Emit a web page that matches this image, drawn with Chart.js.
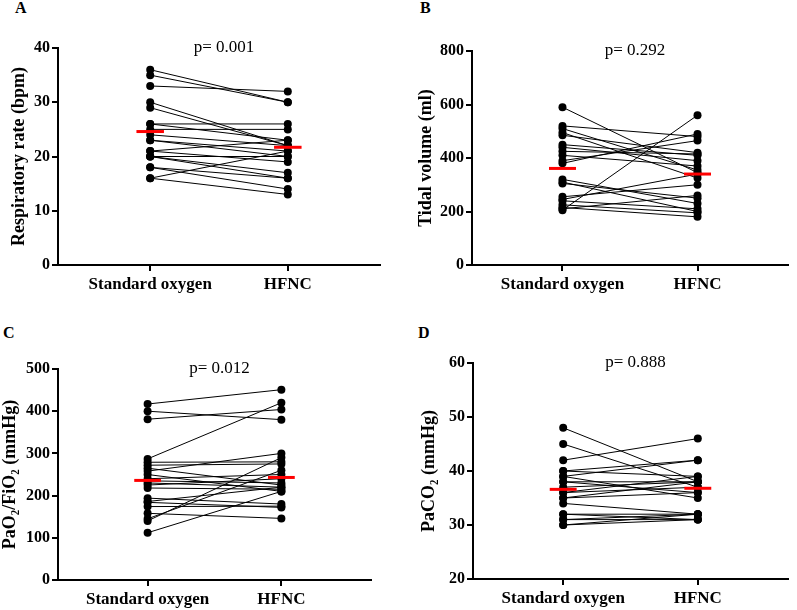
<!DOCTYPE html>
<html lang="en">
<head>
<meta charset="UTF-8">
<title>Standard oxygen vs HFNC</title>
<style>
  body {
    margin: 0;
    background: #fff;
    font-family: 'Liberation Serif', 'Times New Roman', serif;
  }
  .page {
    position: relative;
    width: 797px;
    height: 610px;
    overflow: hidden;
  }
  .panel {
    position: absolute;
  }
  .letter {
    position: absolute;
    font-weight: bold;
    font-size: 16px;
    line-height: 16px;
  }
</style>
<script src="https://cdn.jsdelivr.net/npm/chart.js"></script>
</head>
<body>
<div class="page">
  <div class="letter" style="left:15px;top:0px">A</div>
  <div class="letter" style="left:420px;top:0px">B</div>
  <div class="letter" style="left:3px;top:325px">C</div>
  <div class="letter" style="left:418px;top:325px">D</div>

  <div class="panel" style="left:0;top:0;width:400px;height:300px"><canvas id="chartA"></canvas></div>
  <div class="panel" style="left:400px;top:0;width:397px;height:300px"><canvas id="chartB"></canvas></div>
  <div class="panel" style="left:0;top:300px;width:400px;height:310px"><canvas id="chartC"></canvas></div>
  <div class="panel" style="left:400px;top:300px;width:397px;height:310px"><canvas id="chartD"></canvas></div>
</div>

<script>
// categories on the x axis
const categories = ['Standard oxygen', 'HFNC'];

// A - respiratory rate (bpm), one entry per patient
const rrStd  = [36, 35, 33, 30, 29, 26, 26, 25, 24, 23, 23, 21, 21, 20, 20, 20, 18, 18, 16, 16];
const rrHfnc = [30, 30, 32, 22, 22, 26, 23, 25, 22, 20, 21, 23, 19, 20, 17, 16, 14, 16, 21, 13];
const rrMean = [24.6, 21.7];

// B - tidal volume (ml)
const vtStd  = [590, 520, 510, 495, 485, 450, 440, 425, 410, 390, 380, 320, 310, 305, 255, 245, 240, 225, 215, 210, 205];
const vtHfnc = [345, 480, 355, 325, 420, 410, 390, 415, 370, 465, 490, 230, 200, 250, 300, 340, 210, 195, 180, 260, 560];
const vtMean = [361, 340];

// C - PaO2/FiO2 (mmHg)
const pfStd  = [417, 400, 381, 287, 279, 272, 265, 258, 250, 240, 235, 225, 218, 194, 186, 184, 174, 158, 145, 140, 112, 230];
const pfHfnc = [451, 380, 404, 420, 280, 275, 225, 300, 210, 250, 230, 240, 215, 180, 220, 172, 175, 146, 260, 290, 210, 220];
const pfMean = [236, 243];

// D - PaCO2 (mmHg)
const co2Std  = [48, 45, 42, 40, 40, 39, 39, 38, 38, 37, 36, 36, 35, 34, 32, 32, 31, 31, 30, 30, 35];
const co2Hfnc = [38, 37, 46, 42, 39, 42, 35, 38, 36, 38, 39, 37, 36, 32, 31, 32, 32, 31, 32, 31, 38];
const co2Mean = [36.6, 36.8];

const pValues = ['p= 0.001', 'p= 0.292', 'p= 0.012', 'p= 0.888'];
const yTitles = ['Respiratory rate (bpm)', 'Tidal volume (ml)', 'PaO\u2082/FiO\u2082 (mmHg)', 'PaCO\u2082 (mmHg)'];
const yRanges = [[0, 40, 10], [0, 800, 200], [0, 500, 100], [20, 60, 10]];

const FONT = "'Liberation Serif', 'Times New Roman', serif";

// p value text sitting at the top of the plot area
const pLabel = {
  id: 'pLabel',
  afterDraw(chart, args, opts) {
    const { ctx, chartArea } = chart;
    ctx.save();
    ctx.font = '17px ' + FONT;
    ctx.fillStyle = '#000';
    ctx.textAlign = 'center';
    ctx.textBaseline = 'middle';
    ctx.fillText(opts.text, (chartArea.left + chartArea.right) / 2 + 5, chartArea.top);
    ctx.restore();
  }
};

function makePanel(id, std, hfnc, mean, n, box) {
  const datasets = [];
  // means first so they end up on top
  mean.forEach((m, i) => {
    datasets.push({
      data: [{ x: i + 0.9, y: m }, { x: i + 1.1, y: m }],
      borderColor: '#ff0000',
      borderWidth: 3,
      pointRadius: 0,
      showLine: true
    });
  });
  std.forEach((v, i) => {
    datasets.push({
      data: [{ x: 1, y: v }, { x: 2, y: hfnc[i] }],
      borderColor: '#000',
      backgroundColor: '#000',
      borderWidth: 1,
      pointRadius: 4,
      pointBorderWidth: 0,
      showLine: true
    });
  });

  const axisGrid = { drawOnChartArea: false, drawTicks: true, tickLength: 6, color: '#000', lineWidth: 2 };
  const axisBorder = { display: true, color: '#000', width: 2 };

  new Chart(document.getElementById(id), {
    type: 'scatter',
    data: { datasets },
    plugins: [pLabel],
    options: {
      responsive: true,
      maintainAspectRatio: false,
      animation: false,
      layout: { padding: { top: box.top, right: box.right, left: 0, bottom: 0 } },
      plugins: {
        legend: { display: false },
        tooltip: { enabled: false },
        pLabel: { text: pValues[n] }
      },
      scales: {
        x: {
          type: 'linear',
          min: 0.33,
          max: 2.67,
          afterBuildTicks: s => { s.ticks = categories.map((c, i) => ({ value: i + 1 })); },
          ticks: {
            callback: (v, i) => categories[i],
            font: { family: FONT, size: 17, weight: 'bold' },
            color: '#000',
            padding: 3,
            maxRotation: 0,
            autoSkip: false
          },
          grid: axisGrid,
          border: axisBorder,
          afterFit: s => { s.height = box.xh; }
        },
        y: {
          min: yRanges[n][0],
          max: yRanges[n][1],
          ticks: {
            stepSize: yRanges[n][2],
            font: { family: FONT, size: 16, weight: 'bold' },
            color: '#000',
            padding: 2
          },
          grid: axisGrid,
          border: axisBorder,
          title: {
            display: true,
            text: yTitles[n],
            font: { family: FONT, size: 18, weight: 'bold' },
            color: '#000',
            padding: { top: box.tp, bottom: 0 }
          },
          afterFit: s => { s.width = box.yw; }
        }
      }
    }
  });
}

window.onload = function() {
  makePanel('chartA', rrStd, rrHfnc, rrMean, 0, { top: 48, right: 20, yw: 58, xh: 35, tp: 9 });
  makePanel('chartB', vtStd, vtHfnc, vtMean, 1, { top: 51, right: 9, yw: 72, xh: 35, tp: 16 });
  makePanel('chartC', pfStd, pfHfnc, pfMean, 2, { top: 69, right: 29, yw: 58, xh: 30, tp: 0 });
  makePanel('chartD', co2Std, co2Hfnc, co2Mean, 3, { top: 63, right: 9, yw: 73, xh: 31, tp: 19 });
};
</script>
</body>
</html>
